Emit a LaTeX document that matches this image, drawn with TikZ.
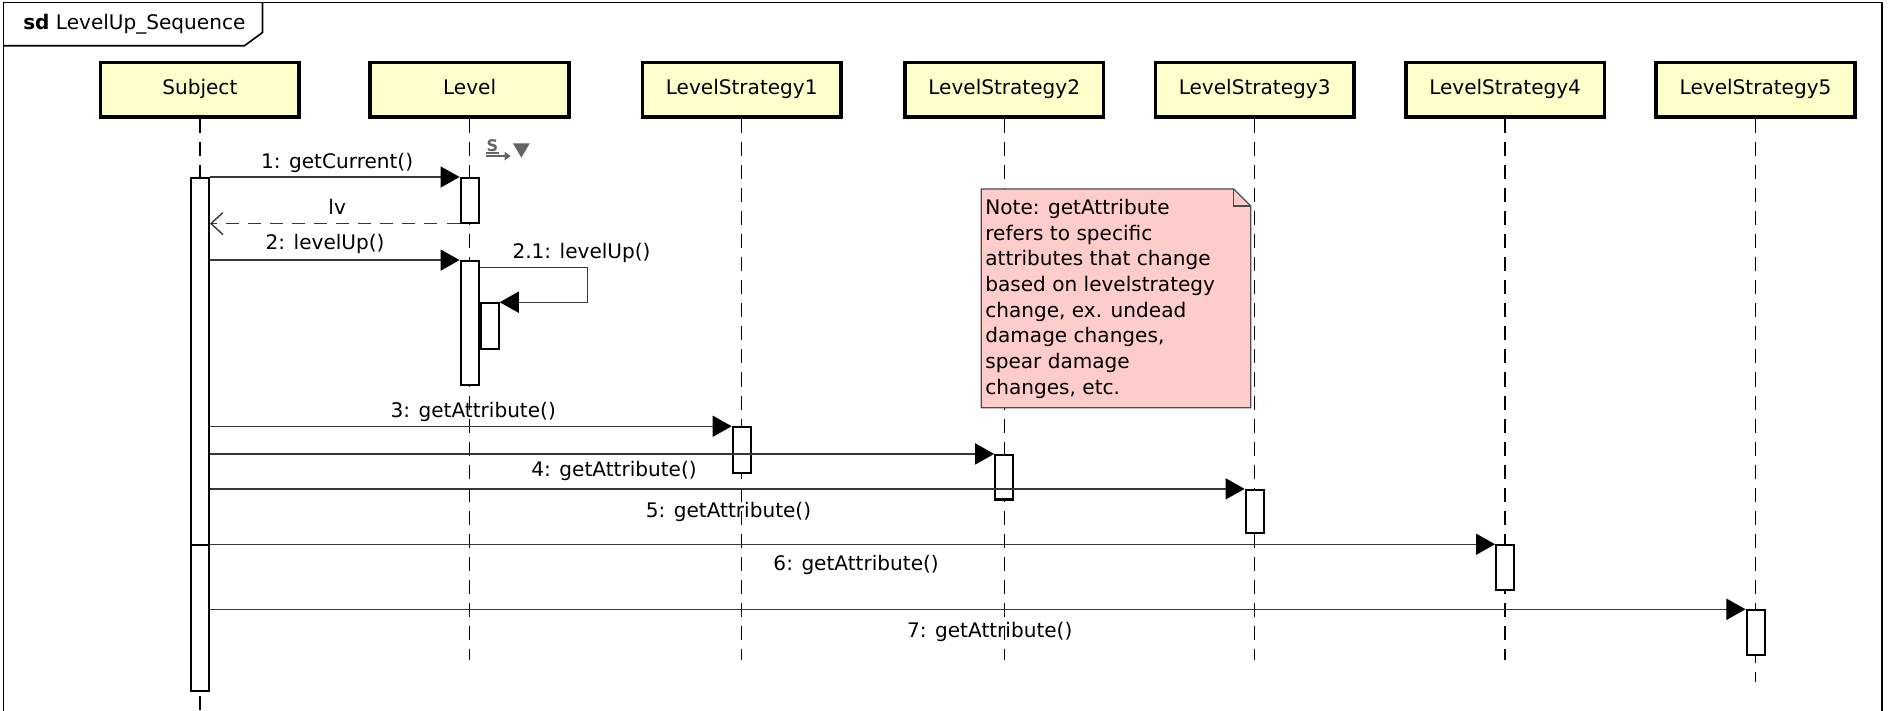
\documentclass[tikz,border=0pt]{standalone}
\usepackage{fontspec}
\setmainfont{DejaVu Sans}
\usetikzlibrary{arrows.meta}
\definecolor{headfill}{RGB}{255,255,204}
\definecolor{notefill}{RGB}{255,204,204}
\definecolor{msgline}{RGB}{55,55,55}
\definecolor{icongray}{RGB}{100,100,100}
\tikzset{
  head/.style={draw, line width=1.8pt, fill=headfill, minimum width=99pt, minimum height=27pt, inner sep=0pt, text height=7.4pt, text depth=2.4pt},
  lifeline/.style={line width=0.7pt, dash pattern=on 7pt off 4.5pt},
  act/.style={draw, line width=1pt, fill=white, minimum width=9pt, inner sep=0pt, anchor=north},
  msg/.style={line width=0.7pt, draw=msgline, -{Triangle[length=9.5pt,width=10.5pt,color=black]}},
  ret/.style={line width=0.7pt, draw=msgline, dash pattern=on 6.5pt off 4.5pt, -{Straight Barb[length=6pt,width=11pt]}},
  lbl/.style={inner sep=0pt},
  notebox/.style={draw=black!70, line width=0.6pt, fill=notefill},
}
\begin{document}
\begin{tikzpicture}[x=0.6pt, y=-0.6pt, font=\fontsize{10}{12.8}\selectfont]
    \useasboundingbox (0,0) rectangle (1568,590);
    \clip (0,0) rectangle (1568,590);
    % frame
    \draw[line width=0.8pt] (3,2) rectangle (1563,640);
    \draw[line width=0.8pt] (3,38) -- (203,38) -- (218,27) -- (218,2);
    \node[anchor=west, lbl] (title) at (19,20) {\textbf{sd} LevelUp\_Sequence};
    % heads
    \node[head] (subj) at (166,74.5) {Subject};
    \node[head] (lvl) at (390,74.5) {Level};
    \node[head] (ls1) at (616,74.5) {LevelStrategy1};
    \node[head] (ls2) at (834,74.5) {LevelStrategy2};
    \node[head] (ls3) at (1042,74.5) {LevelStrategy3};
    \node[head] (ls4) at (1250,74.5) {LevelStrategy4};
    \node[head] (ls5) at (1458,74.5) {LevelStrategy5};
    \coordinate (lowend) at (0,548);
    \coordinate (ls5end) at (0,566);
    \coordinate (bottom) at (0,600);
    % lifelines
    \draw[lifeline] (subj.south) -- (subj.south |- bottom);
    \draw[lifeline] (lvl.south) -- (lvl.south |- lowend);
    \draw[lifeline] (ls1.south) -- (ls1.south |- lowend);
    \draw[lifeline] (ls2.south) -- (ls2.south |- lowend);
    \draw[lifeline] (ls3.south) -- (ls3.south |- lowend);
    \draw[lifeline] (ls4.south) -- (ls4.south |- lowend);
    \draw[lifeline] (ls5.south) -- (ls5.south |- ls5end);
    % note
    \node[anchor=north west, minimum width=133.8pt, minimum height=108.6pt, inner sep=0pt] (note) at (815,157) {};
    \draw[notebox] (note.north west) -- ([xshift=-8.4pt]note.north east) -- ([yshift=-8.4pt]note.north east)
      -- (note.south east) -- (note.south west) -- cycle;
    \draw[draw=black!70, line width=0.6pt] ([xshift=-8.4pt]note.north east) |- ([yshift=-8.4pt]note.north east);
    \node[anchor=north west, align=left, lbl] (notetext) at (818,165) {Note: getAttribute\\refers to specific\\attributes that change\\based on levelstrategy\\change, ex. undead\\damage changes,\\spear damage\\changes, etc.};
    % activations
    \node[act, minimum height=183pt] (sa1) at (subj.south |- 0,147) {};
    \node[act, minimum height=72.6pt] (sa2) at (subj.south |- 0,452) {};
    \node[act, minimum height=22.2pt] (la1) at (lvl.south |- 0,147) {};
    \node[act, minimum height=61.8pt] (la2) at (lvl.south |- 0,216) {};
    \node[act, minimum height=22.8pt, anchor=north west] (la3) at (la2.east |- 0,251) {};
    \node[act, minimum height=22.8pt] (s1a) at (ls1.south |- 0,354) {};
    \node[act, minimum height=22.2pt] (s2a) at (ls2.south |- 0,377) {};
    \node[act, minimum height=21.6pt] (s3a) at (ls3.south |- 0,406) {};
    \node[act, minimum height=22.2pt] (s4a) at (ls4.south |- 0,452) {};
    \node[act, minimum height=22.2pt] (s5a) at (ls5.south |- 0,506) {};
    % messages
    \draw[msg] (la1.north west -| sa1.east) -- (la1.north west);
    \draw[ret] (la1.south west) -- (la1.south west -| sa1.east);
    \draw[msg] (la2.north west -| sa1.east) -- (la2.north west);
    \coordinate (selfturn) at (488,222);
    \draw[msg] (selfturn -| la2.east) -- (selfturn) |- (la3.north east);
    \draw[msg] (s1a.north west -| sa1.east) -- (s1a.north west);
    \draw[msg] (s2a.north west -| sa1.east) -- (s2a.north west);
    \draw[msg] (s3a.north west -| sa1.east) -- (s3a.north west);
    \draw[msg] (sa2.north east) -- (s4a.north west);
    \draw[msg] (s5a.north west -| sa2.east) -- (s5a.north west);
    % labels
    \node[lbl] (m1) at (280,135) {1: getCurrent()};
    \node[lbl] (mlv) at (280,172) {lv};
    \node[lbl] (m2) at (270,203) {2: levelUp()};
    \node[lbl] (m21) at (483,210) {2.1: levelUp()};
    \node[lbl] (m3) at (393,342) {3: getAttribute()};
    \node[lbl] (m4) at (510,391) {4: getAttribute()};
    \node[lbl] (m5) at (605,425) {5: getAttribute()};
    \node[lbl] (m6) at (711,469) {6: getAttribute()};
    \node[lbl] (m7) at (822,525) {7: getAttribute()};
    % sync icon
    \node[lbl, text=icongray, font=\fontsize{8}{8}\selectfont\bfseries] (sync) at (409,121) {S};
    \draw[icongray, line width=1pt, -{Triangle[length=3pt,width=4pt]}] ([yshift=-2pt]sync.south west) -- ([yshift=-2pt,xshift=6pt]sync.south east);
    \draw[icongray, line width=0.8pt] ([yshift=-0.5pt]sync.south west) -- ([yshift=-0.5pt]sync.south east);
    \fill[icongray] (426,119) -- (440,119) -- (433,131) -- cycle;
\end{tikzpicture}
\end{document}
